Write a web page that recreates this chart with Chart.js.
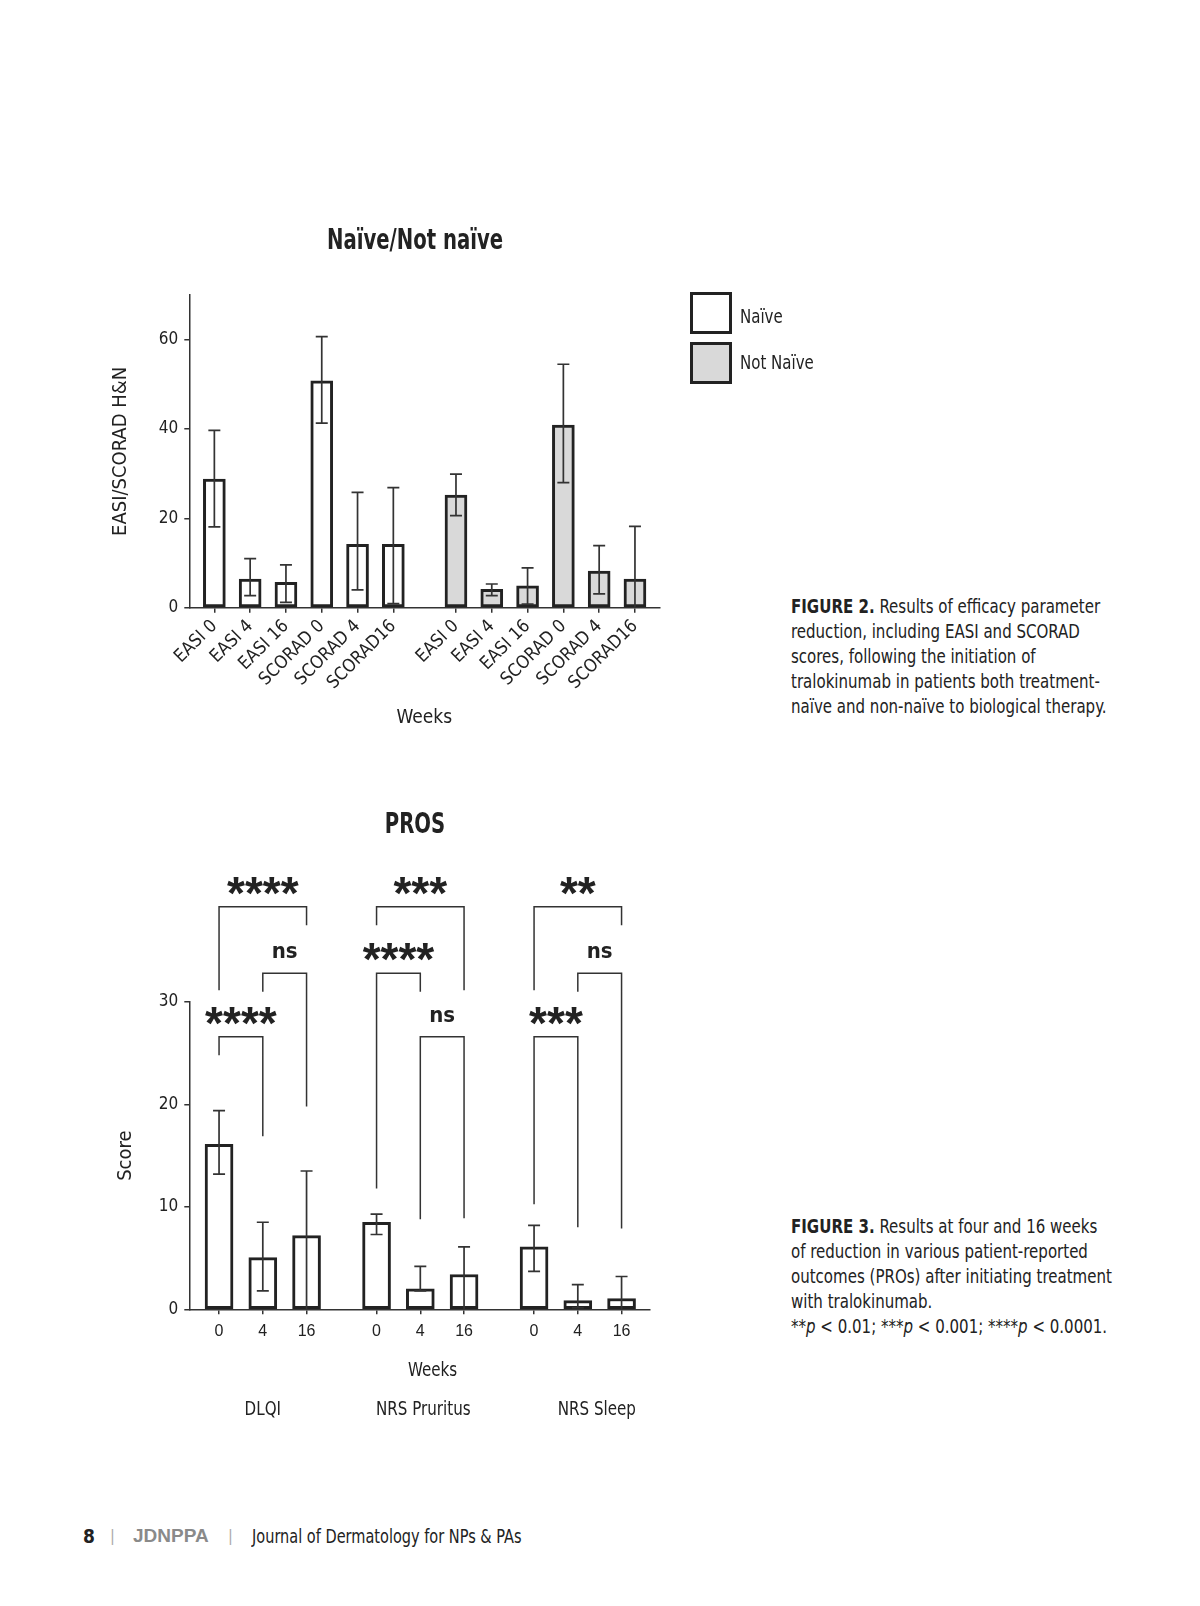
<!DOCTYPE html>
<html>
<head>
<meta charset="utf-8">
<script src="https://cdn.jsdelivr.net/npm/chart.js@4.4.1/dist/chart.umd.min.js"></script>
<style>
  body { margin: 0; background: #fff; color: #222;
         font-family: "Liberation Sans Narrow", "DejaVu Sans Condensed", sans-serif; }
  #page { position: relative; width: 1200px; height: 1606px; overflow: hidden; }
  canvas { position: absolute; }
  .narrow { transform: scaleX(0.835); transform-origin: left top; }
  .caption { position: absolute; left: 791px; font-size: 20px; line-height: 25px; white-space: pre; }
  .caption b { font-weight: bold; }
  .lbox { position: absolute; left: 690px; width: 36px; height: 36px; border: 3px solid #222; }
  .ltext { position: absolute; left: 740px; font-size: 20px; line-height: 24px; white-space: pre; }
  .footer { position: absolute; top: 1524px; font-size: 19px; line-height: 24px; white-space: pre; }
</style>
</head>
<body>
<div id="page">
  <canvas id="efficacyChart" width="710" height="540" style="left:60px; top:200px;"></canvas>
  <canvas id="prosChart" width="710" height="660" style="left:60px; top:780px;"></canvas>

  <div class="lbox" style="top:292px; background:#fff;"></div>
  <div class="ltext narrow" style="top:304px;">Naïve</div>
  <div class="lbox" style="top:342px; background:#d9d9d9;"></div>
  <div class="ltext narrow" style="top:350px;">Not Naïve</div>

  <div class="caption narrow" style="top:594px;"><b>FIGURE 2.</b> Results of efficacy parameter
reduction, including EASI and SCORAD
scores, following the initiation of
tralokinumab in patients both treatment-
naïve and non-naïve to biological therapy.</div>

  <div class="caption narrow" style="top:1214px;"><b>FIGURE 3.</b> Results at four and 16 weeks
of reduction in various patient-reported
outcomes (PROs) after initiating treatment
with tralokinumab.
**<i>p</i> &lt; 0.01; ***<i>p</i> &lt; 0.001; ****<i>p</i> &lt; 0.0001.</div>

  <div class="footer" style="left:83px; font-weight:bold;">8</div>
  <div class="footer" style="left:110px; color:#aaa; font-size:16px;">|</div>
  <div class="footer" style="left:133px; font-weight:bold; color:#8a8a8a; font-family:'Liberation Sans', sans-serif;">JDNPPA</div>
  <div class="footer" style="left:228px; color:#aaa; font-size:16px;">|</div>
  <div class="footer narrow" style="left:252px; transform: scaleX(0.85);">Journal of Dermatology for NPs &amp; PAs</div>
</div>

<script>
const FONT = '"Liberation Sans Narrow", "DejaVu Sans Condensed", sans-serif';
const INK = '#222';

// Figure 2 - efficacy scores
const efficacyCategories = ['EASI 0', 'EASI 4', 'EASI 16', 'SCORAD 0', 'SCORAD 4', 'SCORAD16'];
const naiveMean = [28.8, 6.4, 5.7, 50.8, 14.2, 14.2];
const naiveHigh = [39.7, 11.0, 9.6, 60.7, 25.8, 26.9];
const naiveLow = [18.1, 2.7, 1.2, 41.3, 4.0, 0.9];
const notNaiveMean = [25.2, 4.1, 4.9, 40.9, 8.2, 6.4];
const notNaiveHigh = [29.9, 5.3, 8.9, 54.5, 13.9, 18.2];
const notNaiveLow = [20.6, 2.7, 0.8, 28.0, 3.1, 0];
const efficacyTicks = [0, 20, 40, 60];

// Figure 3 - PROs
const prosGroups = ['DLQI', 'NRS Pruritus', 'NRS Sleep'];
const prosWeeks = ['0', '4', '16'];
const prosMean = [16.1, 5.05, 7.2, 8.5, 2.0, 3.4, 6.1, 0.85, 1.05];
const prosHigh = [19.4, 8.5, 13.5, 9.3, 4.2, 6.1, 8.2, 2.4, 3.2];
const prosLow = [13.2, 1.8, 0, 7.3, 1.8, 0, 3.7, 0.15, 0];
// significance brackets: group, bars compared, bracket level, leg ends
const prosBrackets = [
    { group: 0, from: 0, to: 2, level: 39.3, fromEnd: 31.15, toEnd: 37.5, label: '****' },
    { group: 0, from: 1, to: 2, level: 32.8, fromEnd: 31.0, toEnd: 19.8, label: 'ns' },
    { group: 0, from: 0, to: 1, level: 26.6, fromEnd: 24.8, toEnd: 16.9, label: '****' },
    { group: 1, from: 0, to: 2, level: 39.3, fromEnd: 37.5, toEnd: 31.15, label: '***' },
    { group: 1, from: 0, to: 1, level: 32.8, fromEnd: 11.8, toEnd: 31.0, label: '****' },
    { group: 1, from: 1, to: 2, level: 26.6, fromEnd: 8.8, toEnd: 8.9, label: 'ns' },
    { group: 2, from: 0, to: 2, level: 39.3, fromEnd: 31.15, toEnd: 37.5, label: '**' },
    { group: 2, from: 1, to: 2, level: 32.8, fromEnd: 31.0, toEnd: 7.9, label: 'ns' },
    { group: 2, from: 0, to: 1, level: 26.6, fromEnd: 10.25, toEnd: 8.0, label: '***' }
];

// x positions on a linear index axis (gap between groups)
const efficacyGroupStep = 6.75;
const naivePos = efficacyCategories.map((_, i) => i);
const notNaivePos = efficacyCategories.map((_, i) => i + efficacyGroupStep);
const prosGroupStep = 3.6;
const prosPos = prosMean.map((_, i) => Math.floor(i / 3) * prosGroupStep + (i % 3));

const errorBars = {
    id: 'errorBars',
    afterDatasetsDraw(chart) {
        const { ctx, scales: { y } } = chart;
        const cap = 6;
        ctx.save();
        ctx.strokeStyle = '#333';
        ctx.lineWidth = 1.7;
        chart.data.datasets.forEach((ds, di) => {
            chart.getDatasetMeta(di).data.forEach((bar, i) => {
                const hi = y.getPixelForValue(ds.errHigh[i]);
                const lo = y.getPixelForValue(ds.errLow[i]);
                ctx.beginPath();
                ctx.moveTo(bar.x, lo);
                ctx.lineTo(bar.x, hi);
                ctx.moveTo(bar.x - cap, hi);
                ctx.lineTo(bar.x + cap, hi);
                if (ds.errLow[i] > 0) {
                    ctx.moveTo(bar.x - cap, lo);
                    ctx.lineTo(bar.x + cap, lo);
                }
                ctx.stroke();
            });
        });
        ctx.restore();
    }
};

function centeredText(ctx, text, x, y) {
    const m = ctx.measureText(text);
    const h = m.actualBoundingBoxAscent + m.actualBoundingBoxDescent;
    ctx.fillText(text, x, y + h / 2 - m.actualBoundingBoxDescent);
}

function narrowText(ctx, text, x, y, sx) {
    ctx.save();
    ctx.translate(x, y);
    ctx.scale(sx, 1);
    ctx.fillText(text, 0, 0);
    ctx.restore();
}

// bold condensed heading, centred on the canvas
const narrowTitle = {
    id: 'narrowTitle',
    afterDraw(chart, args, opts) {
        const { ctx } = chart;
        ctx.save();
        ctx.fillStyle = INK;
        ctx.font = 'bold 28px ' + FONT;
        ctx.textAlign = 'center';
        ctx.textBaseline = 'middle';
        narrowText(ctx, opts.text, chart.width / 2, opts.y, 0.78);
        ctx.restore();
    }
};

const prosAnnotations = {
    id: 'prosAnnotations',
    afterDraw(chart) {
        const { ctx, chartArea, scales: { x, y } } = chart;
        ctx.save();
        ctx.strokeStyle = '#333';
        ctx.lineWidth = 1.5;
        ctx.fillStyle = INK;
        ctx.textAlign = 'center';
        ctx.textBaseline = 'alphabetic';
        prosBrackets.forEach(b => {
            const x1 = x.getPixelForValue(prosPos[b.group * 3 + b.from]);
            const x2 = x.getPixelForValue(prosPos[b.group * 3 + b.to]);
            const yl = y.getPixelForValue(b.level);
            ctx.beginPath();
            ctx.moveTo(x1, y.getPixelForValue(b.fromEnd));
            ctx.lineTo(x1, yl);
            ctx.lineTo(x2, yl);
            ctx.lineTo(x2, y.getPixelForValue(b.toEnd));
            ctx.stroke();
            ctx.font = b.label === 'ns'
                ? 'bold 22px ' + FONT
                : 'bold 46px "Liberation Sans", sans-serif';
            centeredText(ctx, b.label, (x1 + x2) / 2, yl - 21);
        });
        ctx.font = '20px ' + FONT;
        ctx.textBaseline = 'middle';
        // axis title, set a little right of centre as in the figure
        narrowText(ctx, 'Weeks', (chartArea.left + chartArea.right) / 2 + 13, x.bottom - 69, 0.84);
        // group names under the week ticks
        const shift = [0, 3, 19];
        prosGroups.forEach((g, gi) => {
            narrowText(ctx, g, x.getPixelForValue(prosPos[gi * 3 + 1]) + shift[gi], x.bottom - 30, 0.84);
        });
        ctx.restore();
    }
};

function axisStyle() {
    return {
        grid: { display: true, drawOnChartArea: false, drawTicks: true, tickLength: 5,
                color: '#333', lineWidth: 1.5, offset: false },
        border: { display: true, color: '#333', width: 1.5 }
    };
}

// empty right-hand axis that only reserves space
function spacerAxis(width) {
    return {
        type: 'linear',
        position: 'right',
        grid: { display: false },
        border: { display: false },
        ticks: { display: false },
        afterFit: scale => { scale.width = width; }
    };
}

function makeEfficacyChart() {
    const ctx = document.getElementById('efficacyChart').getContext('2d');
    new Chart(ctx, {
        type: 'bar',
        data: {
            datasets: [
                {
                    label: 'Naïve',
                    data: naiveMean.map((v, i) => ({ x: naivePos[i], y: v })),
                    errHigh: naiveHigh,
                    errLow: naiveLow,
                    backgroundColor: '#ffffff',
                    borderColor: INK,
                    borderWidth: 3,
                    borderSkipped: false,
                    barThickness: 22,
                    grouped: false
                },
                {
                    label: 'Not Naïve',
                    data: notNaiveMean.map((v, i) => ({ x: notNaivePos[i], y: v })),
                    errHigh: notNaiveHigh,
                    errLow: notNaiveLow,
                    backgroundColor: '#d9d9d9',
                    borderColor: INK,
                    borderWidth: 3,
                    borderSkipped: false,
                    barThickness: 22,
                    grouped: false
                }
            ]
        },
        options: {
            responsive: false,
            animation: false,
            layout: { padding: { top: 95, left: 0, right: 0, bottom: 0 } },
            plugins: {
                legend: { display: false },
                tooltip: { enabled: false },
                title: { display: false },
                narrowTitle: { text: 'Naïve/Not naïve', y: 42 }
            },
            scales: {
                x: {
                    type: 'linear',
                    min: -0.7,
                    max: 12.43,
                    offset: false,
                    ...axisStyle(),
                    afterBuildTicks: scale => {
                        scale.ticks = naivePos.concat(notNaivePos).map(v => ({ value: v }));
                    },
                    afterFit: scale => { scale.height = 132.3; },
                    ticks: {
                        autoSkip: false,
                        minRotation: 45,
                        maxRotation: 45,
                        padding: 3,
                        color: INK,
                        font: { family: FONT, size: 18 },
                        callback: (value, index) => efficacyCategories[index % efficacyCategories.length]
                    },
                    title: {
                        display: true,
                        text: 'Weeks',
                        color: INK,
                        font: { family: FONT, size: 19 },
                        padding: { top: 0, bottom: 10.3 }
                    }
                },
                y: {
                    min: 0,
                    max: 70,
                    ...axisStyle(),
                    afterBuildTicks: scale => {
                        scale.ticks = efficacyTicks.map(v => ({ value: v }));
                    },
                    afterFit: scale => { scale.width = 129.3; },
                    ticks: { padding: 6, color: INK, font: { family: FONT, size: 17 } },
                    title: {
                        display: true,
                        text: 'EASI/SCORAD H&N',
                        color: INK,
                        font: { family: FONT, size: 20 },
                        padding: { top: 49, bottom: 0 }
                    }
                },
                spacer: spacerAxis(110.7)
            }
        },
        plugins: [errorBars, narrowTitle]
    });
}

function makeProsChart() {
    const ctx = document.getElementById('prosChart').getContext('2d');
    new Chart(ctx, {
        type: 'bar',
        data: {
            datasets: [
                {
                    label: 'PROs',
                    data: prosMean.map((v, i) => ({ x: prosPos[i], y: v })),
                    errHigh: prosHigh,
                    errLow: prosLow,
                    backgroundColor: '#ffffff',
                    borderColor: INK,
                    borderWidth: 3,
                    borderSkipped: false,
                    barThickness: 28,
                    grouped: false
                }
            ]
        },
        options: {
            responsive: false,
            animation: false,
            layout: { padding: { top: 222, left: 0, right: 0, bottom: 0 } },
            plugins: {
                legend: { display: false },
                tooltip: { enabled: false },
                title: { display: false },
                narrowTitle: { text: 'PROS', y: 46 }
            },
            scales: {
                x: {
                    type: 'linear',
                    min: -0.68,
                    max: 9.85,
                    offset: false,
                    ...axisStyle(),
                    afterBuildTicks: scale => {
                        scale.ticks = prosPos.map(v => ({ value: v }));
                    },
                    afterFit: scale => { scale.height = 130.7; },
                    ticks: {
                        autoSkip: false,
                        maxRotation: 0,
                        padding: 8,
                        color: INK,
                        font: { family: '"Liberation Sans", sans-serif', size: 16 },
                        callback: (value, index) => prosWeeks[index % prosWeeks.length]
                    }
                },
                y: {
                    min: 0,
                    max: 30,
                    ...axisStyle(),
                    ticks: { stepSize: 10, padding: 6, color: INK, font: { family: FONT, size: 17 } },
                    afterFit: scale => { scale.width = 129.3; },
                    title: {
                        display: true,
                        text: 'Score',
                        color: INK,
                        font: { family: FONT, size: 20 },
                        padding: { top: 54, bottom: 0 }
                    }
                },
                spacer: spacerAxis(120)
            }
        },
        plugins: [errorBars, prosAnnotations, narrowTitle]
    });
}

makeEfficacyChart();
makeProsChart();
</script>
</body>
</html>
